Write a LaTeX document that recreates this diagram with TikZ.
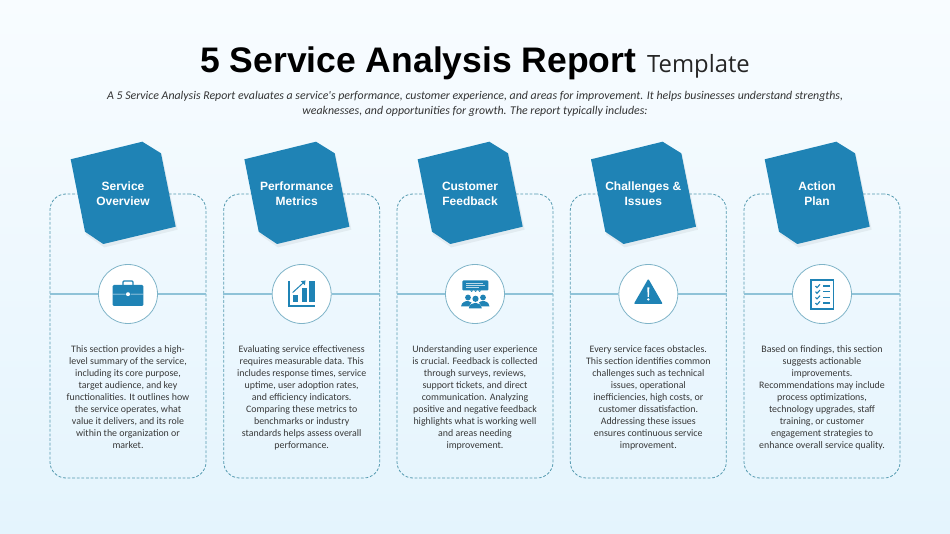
\documentclass[tikz,border=0pt]{standalone}
\usepackage{fontspec}
\setmainfont{Open Sans}
\newfontfamily\headfont{Liberation Sans}
\newfontfamily\bodyfont{Carlito}
\usetikzlibrary{calc}
\definecolor{brandblue}{HTML}{1F83B5}
\definecolor{linkblue}{HTML}{8FC3D8}
\definecolor{ringblue}{HTML}{7FB4C8}
\definecolor{dashblue}{HTML}{559AB0}
\definecolor{bgtop}{HTML}{F8FCFF}
\definecolor{bgbot}{HTML}{E4F4FD}
\tikzset{
  cardbox/.style={draw=dashblue,dashed,dash pattern=on 2.8pt off 1.8pt,line width=.8pt,rounded corners=16pt,minimum width=156pt,minimum height=284pt,inner sep=0pt},
  iconring/.style={circle,draw=ringblue,line width=.8pt,fill=white,minimum size=59pt,inner sep=0pt},
  linkline/.style={draw=linkblue,line width=1.1pt},
  cardhead/.style={font=\headfont\bfseries\fontsize{12}{15}\selectfont,text=white,align=center,inner sep=0pt},
  cardbody/.style={font=\bodyfont\fontsize{9.9}{12}\selectfont,text=black!78,align=center,anchor=north,inner sep=0pt},
  hexface/.style={fill=brandblue},
  hexglow/.style={fill=black,opacity=.05},
  iconfill/.style={fill=brandblue,draw=none},
  iconline/.style={draw=brandblue,line width=1.6pt},
}
% #1 index, #2 circle-centre x, #3 head text, #4 body text, #5 icon
\newcommand{\servcard}[5]{
  \node[cardbox] (box#1) at (#2,336) {};
  \node[iconring] (ring#1) at (#2,294) {};
  \coordinate (left#1) at (box#1.west |- ring#1);
  \coordinate (right#1) at (box#1.east |- ring#1);
  \draw[linkline] (left#1) -- (ring#1);
  \draw[linkline] (ring#1) -- (right#1);
  \begin{scope}[shift={(#2,294)}]
    \fill[hexglow] (-56.3,-133.7) -- (15.3,-151.3) -- (34,-139.7) -- (49.7,-64.3) -- (-23.7,-46.6) -- (-42,-59.3) -- cycle;
    \fill[hexface] (-57.3,-134.7) -- (14.3,-152.3) -- (33,-140.7) -- (47.7,-67.3) -- (-24.7,-50) -- (-43,-62.3) -- cycle;
    #5
  \end{scope}
  \node[cardhead] (head#1) at ($(#2,193.5)+(-5,0)$) {#3};
  \node[cardbody] (text#1) at (#2,345.5) {#4};
}
\begin{document}
\begin{tikzpicture}[x=1pt,y=-1pt]
\useasboundingbox (0,0) rectangle (950,534);
\shade[top color=bgtop,bottom color=bgbot] (0,0) rectangle (950,534);
\node[inner sep=0pt,anchor=base west] (title) at (200,73) {\headfont\bfseries\fontsize{35.5}{40}\selectfont 5 Service Analysis Report};
\node[inner sep=0pt,anchor=base west,text=black!85] (tmpl) at (647,72.5) {\fontsize{23.8}{28}\selectfont Template};
\node[inner sep=0pt,align=center,text=black!80,font=\bodyfont\itshape\fontsize{11.85}{15}\selectfont] (intro) at (475,103.5) {A 5 Service Analysis Report evaluates a service's performance, customer experience, and areas for improvement. It helps businesses understand strengths,\\weaknesses, and opportunities for growth. The report typically includes:};

\servcard{1}{128}{Service\\Overview}{This section provides a high-\\level summary of the service,\\including its core purpose,\\target audience, and key\\functionalities. It outlines how\\the service operates, what\\value it delivers, and its role\\within the organization or\\market.}{
  \draw[iconline,line width=1.4pt,rounded corners=1pt] (-5,-8) -- (-5,-13) -- (5,-13) -- (5,-8);
  \fill[iconfill,rounded corners=1.2pt] (-15.3,-9) rectangle (15.3,12);
  \fill[white] (-15.3,-.1) rectangle (-2.5,.5) (2.5,-.1) rectangle (15.3,.5);
  \fill[white] (0,.2) circle (2);
}
\servcard{2}{301.7}{Performance\\Metrics}{Evaluating service effectiveness\\requires measurable data. This\\includes response times, service\\uptime, user adoption rates,\\and efficiency indicators.\\Comparing these metrics to\\benchmarks or industry\\standards helps assess overall\\performance.}{
  \draw[iconline] (-12.7,-13) -- (-12.7,12) -- (13,12);
  \fill[iconfill] (-8.5,1) rectangle (-3.3,8.5);
  \fill[iconfill] (-.2,-5.5) rectangle (4.8,8.5);
  \fill[iconfill] (7.3,-13) rectangle (12.8,8.5);
  \draw[iconline,line width=1pt] (-9,-1.5) -- (2.5,-12);
  \fill[iconfill] (3.8,-13.5) -- (-.8,-12.8) -- (3.2,-8.8) -- cycle;
}
\servcard{3}{475}{Customer\\Feedback}{Understanding user experience\\is crucial. Feedback is collected\\through surveys, reviews,\\support tickets, and direct\\communication. Analyzing\\positive and negative feedback\\highlights what is working well\\and areas needing\\improvement.}{
  \fill[iconfill,rounded corners=1pt] (-12.7,-13.5) rectangle (13.3,-3.5);
  \draw[white!70!brandblue,line width=.7pt] (-9,-11) -- (8,-11) (-9,-8.8) -- (10,-8.8) (-9,-6.6) -- (4,-6.6);
  \fill[iconfill] (-5,-3.5) -- (-3.5,-2) -- (-2,-3.5) -- cycle (-1,-3.5) -- (.5,-2) -- (2,-3.5) -- cycle (3,-3.5) -- (4.5,-2) -- (6,-3.5) -- cycle;
  \fill[iconfill] (-7,3.5) circle (2.9) (8,3.5) circle (2.9);
  \fill[iconfill] (-14,12.5) .. controls (-13.5,8) and (-9.5,7) .. (-7,7) .. controls (-5.5,7) and (-4.5,7.5) .. (-3.5,8.5) -- (-6,12.5) -- cycle;
  \fill[iconfill] (14.5,12.5) .. controls (14,8) and (10,7) .. (8,7) .. controls (6.5,7) and (5,7.5) .. (4,8.5) -- (6.5,12.5) -- cycle;
  \fill[iconfill] (.5,4.8) circle (3.1);
  \fill[iconfill] (-6.2,14.5) .. controls (-6,10.5) and (-2.5,8.8) .. (.5,8.8) .. controls (3,8.8) and (6.5,10.5) .. (6.8,14.5) -- cycle;
}
\servcard{4}{648.3}{Challenges \&\\Issues}{Every service faces obstacles.\\This section identifies common\\challenges such as technical\\issues, operational\\inefficiencies, high costs, or\\customer dissatisfaction.\\Addressing these issues\\ensures continuous service\\improvement.}{
  \fill[iconfill,rounded corners=1pt] (0,-15.3) -- (14.5,10) -- (-14.5,10) -- cycle;
  \fill[white] (-1,-6.5) -- (1,-6.5) -- (.6,3) -- (-.6,3) -- cycle;
  \fill[white] (0,5.4) circle (1.3);
}
\servcard{5}{822}{Action\\Plan}{Based on findings, this section\\suggests actionable\\improvements.\\Recommendations may include\\process optimizations,\\technology upgrades, staff\\training, or customer\\engagement strategies to\\enhance overall service quality.}{
  \draw[iconline,line width=1.8pt] (-11,-14.3) rectangle (11.5,14.7);
  \foreach \yy in {-8,-2.3,3.3,9}{
    \draw[brandblue,line width=1.1pt] (-6.5,\yy) -- (-5,{\yy+1.6}) -- (-2,{\yy-1.6});
    \draw[brandblue,line width=1.4pt] (1,\yy) -- (7.5,\yy);
  }
}
\end{tikzpicture}
\end{document}
